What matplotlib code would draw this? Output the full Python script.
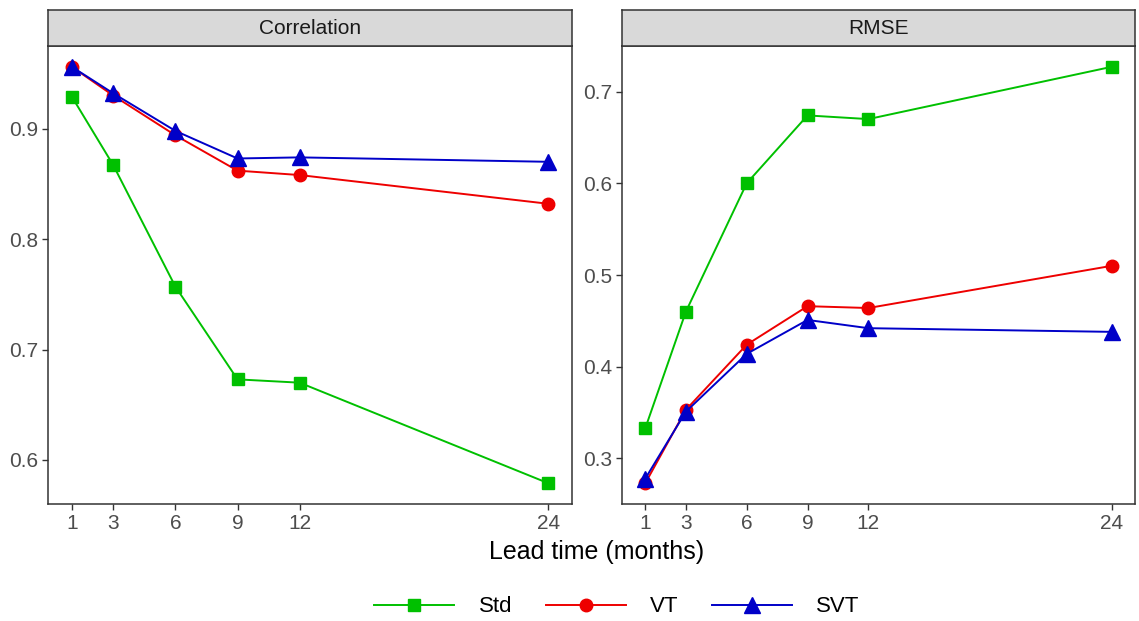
import numpy as np
import matplotlib
matplotlib.use("Agg")
import matplotlib.pyplot as plt
from matplotlib.lines import Line2D

plt.rcParams['font.family'] = ['Liberation Sans', 'DejaVu Sans']

# --- datos ---
lead = [1, 3, 6, 9, 12, 24]
series = ['Std', 'VT', 'SVT']

corr_std = [0.929, 0.867, 0.757, 0.673, 0.670, 0.579]
corr_vt = [0.956, 0.930, 0.894, 0.862, 0.858, 0.832]
corr_svt = [0.956, 0.932, 0.898, 0.873, 0.874, 0.870]

rmse_std = [0.333, 0.460, 0.600, 0.674, 0.670, 0.727]
rmse_vt = [0.273, 0.353, 0.424, 0.466, 0.464, 0.510]
rmse_svt = [0.278, 0.351, 0.414, 0.451, 0.442, 0.438]

colores = {'Std': '#00C000', 'VT': '#EE0000', 'SVT': '#0000C8'}
marcadores = {'Std': ('s', 9), 'VT': ('o', 9), 'SVT': ('^', 11)}

paneles = [
    ("Correlation", {'Std': corr_std, 'VT': corr_vt, 'SVT': corr_svt}, [0.6, 0.7, 0.8, 0.9]),
    ("RMSE", {'Std': rmse_std, 'VT': rmse_vt, 'SVT': rmse_svt}, [0.3, 0.4, 0.5, 0.6, 0.7]),
]

W, H = 1139, 621
fig = plt.figure(figsize=(W / 100, H / 100), dpi=100)

# posiciones en pixeles: (x0, x1)
cajas = [(48, 572), (622, 1135)]
y_top, y_bot, strip_h = 46, 504, 36

for (titulo, datos, yticks), (x0, x1) in zip(paneles, cajas):
    ax = fig.add_axes([x0 / W, 1 - y_bot / H, (x1 - x0) / W, (y_bot - y_top) / H])
    for s in series:
        m, ms = marcadores[s]
        ax.plot(lead, datos[s], color=colores[s], lw=1.4, marker=m, ms=ms, zorder=3)
    vals = np.concatenate([datos[s] for s in series])
    lo, hi = vals.min(), vals.max()
    pad = 0.05 * (hi - lo)
    ax.set_ylim(lo - pad, hi + pad)
    ax.set_xlim(1 - 0.05 * 23, 24 + 0.05 * 23)
    ax.set_xticks(lead)
    ax.set_yticks(yticks)
    ax.set_yticklabels([f"{v:.1f}" for v in yticks])
    ax.tick_params(axis='both', colors='#333333', labelcolor='#4D4D4D', labelsize=15,
                   length=4, width=1, direction='out', pad=3)
    for sp in ax.spines.values():
        sp.set_color('#333333')
        sp.set_linewidth(1.1)
    # franja del titulo
    sax = fig.add_axes([x0 / W, 1 - y_top / H, (x1 - x0) / W, strip_h / H])
    sax.set_facecolor('#D9D9D9')
    sax.set_xticks([]); sax.set_yticks([])
    for sp in sax.spines.values():
        sp.set_color('#333333')
        sp.set_linewidth(1.1)
    sax.text(0.5, 0.5, titulo, ha='center', va='center', fontsize=15, color='#1A1A1A',
             transform=sax.transAxes)

fig.text(597 / W, 1 - 552 / H, "Lead time (months)", ha='center', va='center',
         fontsize=18, color='black')

handles = [Line2D([0], [0], color=colores[s], lw=1.4, marker=marcadores[s][0],
                  ms=marcadores[s][1]) for s in series]
fig.legend(handles, series, loc='center', bbox_to_anchor=(617 / W, 1 - 607 / H), ncol=3,
           frameon=False, fontsize=16, handlelength=3.6, handletextpad=1.1,
           columnspacing=1.5)

fig.savefig("out.png", dpi=100)
